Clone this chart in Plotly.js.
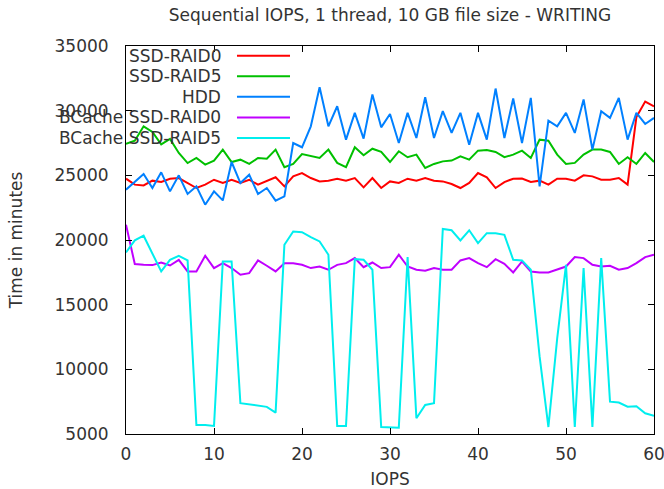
<!DOCTYPE html>
<html>
<head>
<meta charset="utf-8">
<script src="https://cdn.plot.ly/plotly-3.0.1.min.js"></script>
<style>html,body{margin:0;padding:0;background:#fff;}#chart{width:664px;height:489px;}</style>
</head>
<body>
<div id="chart"></div>
<script>
const iops = [0,1,2,3,4,5,6,7,8,9,10,11,12,13,14,15,16,17,18,19,20,21,22,23,24,25,26,27,28,29,30,31,32,33,34,35,36,37,38,39,40,41,42,43,44,45,46,47,48,49,50,51,52,53,54,55,56,57,58,59,60];

const seriesNames = ["SSD-RAID0", "SSD-RAID5", "HDD", "BCache SSD-RAID0", "BCache SSD-RAID5"];
const seriesColors = ["#ff0000", "#00c000", "#0080ff", "#c000ff", "#00eeee"];

const ssdRaid0 = [24740,24280,24220,24590,24490,24740,24790,24410,24020,24280,24660,24410,24660,24410,24660,24280,24580,24850,24150,24920,25180,24790,24530,24580,24740,24580,24790,24070,24790,24020,24530,24410,24740,24580,24790,24580,24530,24330,24020,24410,25180,24850,24020,24480,24740,24750,24490,24590,24280,24740,24740,24590,25000,24920,24660,24660,24790,24280,29500,30700,30340];

const ssdRaid5 = [27430,27680,28790,28350,27400,27820,26730,25950,26340,25830,26140,26990,26030,26210,25880,26340,26290,26990,25630,25880,26650,26470,26340,26990,25960,25630,27170,26550,27060,26810,26030,26860,26400,26600,25570,25880,26080,26140,26470,26210,26910,26960,26810,26400,26600,26910,26340,27760,27680,26600,25880,25960,26600,26990,26990,26810,25880,26400,25880,26730,26030];

const hdd = [23890,24530,25100,24020,25230,23760,25000,23560,24150,22730,23760,23060,26030,24400,25050,23560,24020,23040,23370,27500,27170,28790,31810,28790,30340,27760,29830,27840,31250,28710,29740,27500,29830,27890,31040,27890,29960,28280,29830,27370,29830,27760,31710,27890,30940,27500,30990,24150,29230,28790,29830,28280,30860,26990,29960,29440,30990,27760,29830,28970,29440];

const bcacheRaid0 = [21180,18140,18080,18060,18260,18030,18470,17570,17570,18780,17830,18210,17830,17310,17440,18420,18010,17570,18210,18210,18080,17830,17950,17700,18080,18210,18600,17900,18260,17830,17900,18860,17950,17700,17620,17830,17700,17700,18420,18600,18210,17900,18520,18160,17490,18340,17570,17490,17490,17700,17950,18680,18600,18080,17950,18010,17700,17830,18210,18680,18860];

const bcacheRaid5 = [19040,19970,20330,18990,17570,18470,18780,18420,5700,5700,5620,18340,18340,7380,7300,7200,7100,6650,19630,20660,20600,20230,19890,18860,5620,5620,18520,18470,17700,5540,5490,5490,18680,6220,7250,7380,20850,20750,19970,20750,19760,20530,20530,20400,18470,18420,17700,11000,5540,12400,18080,5540,17830,5540,18600,7500,7430,7110,7150,6600,6400];

const allSeries = [ssdRaid0, ssdRaid5, hdd, bcacheRaid0, bcacheRaid5];

const FONT = "DejaVu Sans, sans-serif";
const TXT = "#333333";
const FS = 17;

const traces = allSeries.map((ys, k) => ({
  type: "scatter",
  mode: "lines",
  x: iops,
  y: ys,
  name: seriesNames[k],
  line: {color: seriesColors[k], width: 2},
  showlegend: false
}));

// gnuplot-style legend: right-aligned text with the line sample to its right
const legendTextX = 0.1837, legendLineX0 = 0.2102, legendLineX1 = 0.3106;
const legendTop = 0.975, legendStep = 0.0530;
const annotations = [];
const shapes = [];
seriesNames.forEach((nm, k) => {
  const yy = legendTop - k * legendStep;
  annotations.push({
    xref: "paper", yref: "paper", x: legendTextX, y: yy,
    xanchor: "right", yanchor: "middle", showarrow: false,
    text: nm, font: {family: FONT, size: FS, color: TXT}
  });
  shapes.push({
    type: "line", xref: "paper", yref: "paper",
    x0: legendLineX0, x1: legendLineX1, y0: yy, y1: yy,
    line: {color: seriesColors[k], width: 2}
  });
});

const axisCommon = {
  showline: true, linecolor: "#000", linewidth: 1,
  mirror: "allticks", ticks: "inside", ticklen: 6, tickcolor: "#000",
  showgrid: false, zeroline: false,
  tickfont: {family: FONT, size: FS, color: TXT},
  ticklabeloverflow: "allow"
};

const layout = {
  width: 664, height: 489,
  margin: {l: 126, r: 10, t: 46, b: 55},
  paper_bgcolor: "#fff", plot_bgcolor: "#fff",
  font: {family: FONT, size: FS, color: TXT},
  title: {
    text: "Sequential IOPS, 1 thread, 10 GB file size - WRITING",
    xref: "paper", x: 0.5, xanchor: "center",
    yref: "container", y: 0.969, yanchor: "middle",
    font: {family: FONT, size: FS, color: TXT}
  },
  xaxis: Object.assign({}, axisCommon, {
    range: [0, 60], tick0: 0, dtick: 10, tickformat: "d",
    ticklabelstandoff: 5,
    title: {text: "IOPS", font: {family: FONT, size: FS, color: TXT}, standoff: 19}
  }),
  yaxis: Object.assign({}, axisCommon, {
    range: [5000, 35000], tick0: 5000, dtick: 5000, tickformat: "d",
    ticklabelstandoff: 13,
    title: {text: "Time in minutes", font: {family: FONT, size: FS, color: TXT}, standoff: 27}
  }),
  annotations: annotations,
  shapes: shapes
};

Plotly.newPlot("chart", traces, layout, {displayModeBar: false, staticPlot: true});
</script>
</body>
</html>
